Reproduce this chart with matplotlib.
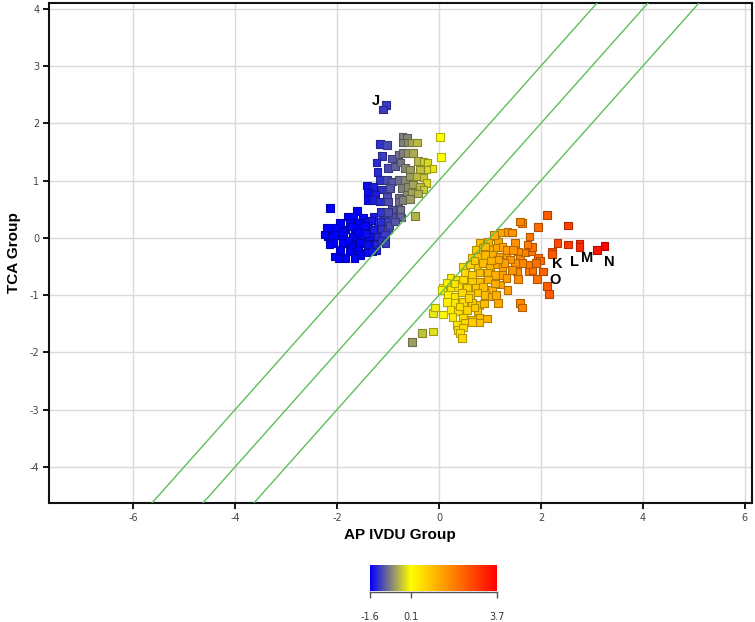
import matplotlib
matplotlib.use("Agg")
import matplotlib.pyplot as plt
import numpy as np
from matplotlib.colors import LinearSegmentedColormap, Normalize

plt.rcParams["axes.unicode_minus"] = False

# ---------------- data ----------------
# (x = AP IVDU Group, y = TCA Group, c = colour value)
upper_pts = [
    (-1.04, 2.32, -1.2), (-1.10, 2.24, -1.2), (-1.16, 1.64, -1.25), (-1.02, 1.62, -1.1),
    (-0.71, 1.76, -0.75), (-0.63, 1.75, -0.7), (-0.71, 1.66, -0.75), (-0.61, 1.66, -0.65),
    (-0.53, 1.66, -0.5), (-0.43, 1.66, -0.35), (0.02, 1.76, 0.1), (0.04, 1.41, 0.1),
    (-1.12, 1.43, -1.2), (-0.92, 1.38, -1.0), (-0.80, 1.45, -0.85), (-0.71, 1.48, -0.75),
    (-0.61, 1.48, -0.6), (-0.51, 1.48, -0.45), (-0.41, 1.34, -0.35), (-0.31, 1.33, -0.25),
    (-0.22, 1.31, -0.15), (-0.14, 1.21, -0.05), (-0.24, 1.19, -0.15), (-1.22, 1.31, -1.3),
    (-1.20, 1.15, -1.3), (-1.00, 1.22, -1.1), (-0.86, 1.24, -0.95), (-0.76, 1.31, -0.8),
    (-0.67, 1.22, -0.7), (-0.57, 1.19, -0.55), (-0.37, 1.19, -0.3), (-1.16, 1.01, -1.25),
    (-1.02, 1.01, -1.1), (-0.92, 0.98, -1.0), (-0.80, 1.01, -0.85), (-0.67, 1.01, -0.7),
    (-0.57, 1.07, -0.55), (-0.43, 1.07, -0.35), (-0.31, 1.05, -0.25), (-0.24, 0.96, -0.15),
    (-1.41, 0.91, -1.5), (-1.29, 0.89, -1.4), (-1.12, 0.84, -1.25), (-0.96, 0.87, -1.0),
    (-0.73, 0.87, -0.75), (-0.61, 0.89, -0.65), (-0.51, 0.93, -0.5), (-0.37, 0.89, -0.35),
    (-0.31, 0.84, -0.25), (-1.39, 0.79, -1.5), (-1.25, 0.75, -1.4), (-1.02, 0.72, -1.1),
    (-0.80, 0.70, -0.85), (-0.63, 0.75, -0.65), (-0.53, 0.79, -0.5), (-0.41, 0.77, -0.4),
    (-1.39, 0.66, -1.5), (-1.29, 0.66, -1.4), (-1.16, 0.63, -1.3), (-1.00, 0.63, -1.1),
    (-0.80, 0.63, -0.85), (-0.71, 0.66, -0.75), (-0.57, 0.68, -0.55), (-0.92, 0.49, -1.0),
    (-0.76, 0.49, -0.85), (-0.47, 0.38, -0.4), (-0.73, 0.35, -0.85), (-2.14, 0.52, -1.6),
    (-1.61, 0.47, -1.6),
    (-1.80, 0.37, -1.6), (-1.69, 0.37, -1.6), (-1.49, 0.35, -1.55), (-1.29, 0.37, -1.4),
    (-1.10, 0.37, -1.2), (-0.92, 0.37, -1.05), (-0.76, 0.37, -0.9), (-1.94, 0.26, -1.6),
    (-1.75, 0.26, -1.6), (-1.59, 0.26, -1.6), (-1.39, 0.28, -1.5), (-1.20, 0.26, -1.3),
    (-1.02, 0.28, -1.15), (-2.20, 0.17, -1.6), (-2.04, 0.17, -1.6), (-1.84, 0.14, -1.6),
    (-1.65, 0.16, -1.6), (-1.49, 0.17, -1.55), (-1.29, 0.14, -1.4), (-1.12, 0.16, -1.25),
    (-1.00, 0.14, -1.15), (-2.18, 0.02, -1.6), (-2.04, 0.05, -1.6), (-1.88, 0.02, -1.6),
    (-1.69, 0.02, -1.6), (-1.51, 0.03, -1.55), (-1.35, 0.02, -1.5), (-1.20, 0.02, -1.35),
    (-1.06, 0.05, -1.2), (-2.08, -0.09, -1.6), (-1.88, -0.09, -1.6), (-1.71, -0.12, -1.6),
    (-1.55, -0.09, -1.6), (-1.39, -0.12, -1.5), (-1.22, -0.12, -1.35), (-1.94, -0.21, -1.6),
    (-1.75, -0.24, -1.6), (-1.59, -0.21, -1.6), (-1.41, -0.26, -1.5), (-1.22, -0.21, -1.35),
    (-2.04, -0.33, -1.6), (-1.84, -0.35, -1.6), (-1.90, 0.10, -1.6), (-1.60, 0.10, -1.6),
    (-1.42, 0.08, -1.5), (-1.32, 0.30, -1.45), (-1.78, -0.05, -1.6), (-1.55, -0.30, -1.6),
    (-1.66, -0.35, -1.6), (-1.30, -0.24, -1.45), (-1.12, -0.05, -1.25), (-0.97, 0.22, -1.1),
    (-0.86, 0.28, -1.0), (-1.15, 0.45, -1.25), (-1.00, 0.45, -1.1), (-2.15, -0.12, -1.6),
    (-2.25, 0.06, -1.6), (-1.97, -0.36, -1.6), (-1.72, 0.20, -1.6), (-1.45, 0.22, -1.55),
    (-1.15, 0.28, -1.3), (-1.05, -0.10, -1.2),
]

lower_pts = [
    (-0.53, -1.82, -0.55), (-0.33, -1.66, -0.3), (-0.12, -1.64, -0.1), (-0.12, -1.31, -0.05),
    (-0.08, -1.22, 0.0), (1.10, 0.03, 1.25), (0.96, -0.07, 1.1), (0.80, -0.09, 0.95),
    (1.16, -0.07, 1.3), (0.86, -0.17, 1.0), (0.71, -0.21, 0.85), (1.00, -0.21, 1.15),
    (1.14, -0.17, 1.3), (1.25, -0.16, 1.4), (0.65, -0.35, 0.8), (0.76, -0.33, 0.9),
    (0.90, -0.30, 1.05), (1.06, -0.30, 1.2), (1.20, -0.33, 1.35), (1.33, -0.30, 1.5),
    (0.47, -0.51, 0.6), (0.61, -0.47, 0.75), (0.75, -0.51, 0.9), (0.86, -0.44, 1.0),
    (1.00, -0.51, 1.15), (1.14, -0.47, 1.3), (1.25, -0.51, 1.4), (0.51, -0.61, 0.65),
    (0.65, -0.65, 0.8), (0.80, -0.61, 0.95), (0.96, -0.61, 1.1), (1.10, -0.65, 1.25),
    (1.25, -0.65, 1.4), (0.22, -0.70, 0.35), (0.35, -0.73, 0.5), (0.47, -0.73, 0.6),
    (0.65, -0.77, 0.8), (0.80, -0.77, 0.95), (0.96, -0.73, 1.1), (1.20, -0.82, 1.35),
    (1.33, -0.70, 1.5), (0.08, -0.87, 0.2), (0.22, -0.86, 0.35), (0.37, -0.86, 0.5),
    (0.55, -0.87, 0.7), (0.71, -0.87, 0.85), (0.86, -0.86, 1.0), (1.04, -0.91, 1.2),
    (0.06, -0.91, 0.2), (0.18, -1.00, 0.3), (0.31, -1.03, 0.45), (0.45, -0.96, 0.6),
    (0.61, -1.00, 0.75), (0.76, -0.96, 0.9), (0.90, -1.00, 1.05), (1.04, -1.03, 1.2),
    (0.16, -1.12, 0.3), (0.31, -1.14, 0.45), (0.47, -1.12, 0.6), (0.65, -1.14, 0.8),
    (0.80, -1.17, 0.95), (1.16, -1.14, 1.3), (0.22, -1.26, 0.35), (0.37, -1.29, 0.5),
    (0.55, -1.26, 0.7), (0.76, -1.29, 0.9), (0.08, -1.34, 0.2), (0.27, -1.38, 0.4),
    (0.47, -1.40, 0.6), (0.65, -1.43, 0.8), (0.80, -1.40, 0.95), (0.94, -1.41, 1.1),
    (0.35, -1.52, 0.45), (0.51, -1.48, 0.65), (0.65, -1.47, 0.8), (0.80, -1.48, 0.95),
    (0.37, -1.61, 0.5), (0.47, -1.57, 0.6), (0.41, -1.66, 0.55), (0.45, -1.75, 0.6),
    (2.12, 0.40, 2.4), (2.53, 0.21, 2.8), (1.63, 0.26, 1.85), (1.59, 0.28, 1.8),
    (1.35, 0.10, 1.55), (1.43, 0.09, 1.6), (1.78, 0.02, 2.0), (1.94, 0.19, 2.15),
    (2.33, -0.09, 2.6), (2.53, -0.12, 2.85), (2.76, -0.10, 3.1), (2.75, -0.16, 3.1),
    (3.10, -0.21, 3.45), (3.25, -0.14, 3.7), (2.22, -0.24, 2.45), (2.22, -0.28, 2.45),
    (1.94, -0.35, 2.15), (1.98, -0.40, 2.2), (2.04, -0.59, 2.3), (2.12, -0.84, 2.4),
    (2.16, -0.98, 2.4), (1.92, -0.72, 2.1), (1.55, -0.72, 1.7), (1.35, -0.91, 1.5),
    (1.59, -1.14, 1.75), (1.63, -1.22, 1.8), (1.75, -0.59, 1.95), (1.84, -0.56, 2.05),
    (1.75, -0.47, 1.95), (1.63, -0.44, 1.8), (1.49, -0.44, 1.65), (1.39, -0.38, 1.55),
    (1.59, -0.30, 1.75), (1.69, -0.26, 1.85), (1.82, -0.24, 2.0), (1.84, -0.16, 2.05),
    (1.73, -0.12, 1.9), (1.49, -0.09, 1.65), (1.55, -0.24, 1.7), (1.33, -0.21, 1.5),
    (1.45, -0.21, 1.6), (1.20, 0.09, 1.35), (1.08, 0.05, 1.25), (1.29, -0.44, 1.45),
    (1.16, -0.38, 1.3), (1.53, -0.59, 1.7), (1.43, -0.56, 1.6), (1.90, -0.44, 2.1),
    (0.90, -0.15, 1.05), (1.02, -0.40, 1.15), (0.70, -0.40, 0.85), (0.30, -0.80, 0.45),
    (0.15, -0.78, 0.3), (0.58, -1.05, 0.7), (0.70, -1.22, 0.85), (0.40, -1.20, 0.55),
    (0.88, -1.15, 1.0), (1.10, -0.80, 1.25), (1.12, -1.00, 1.25),
]

point_labels = ["J", "K", "L", "M", "N", "O"]
label_x = [-1.24, 2.33, 2.65, 2.90, 3.35, 2.27]
label_y = [2.39, -0.45, -0.42, -0.35, -0.42, -0.73]

line_intercepts = [1.0, 0.0, -1.0]   # lines y = x + b

x_ticks = [-6, -4, -2, 0, 2, 4, 6]
y_ticks = [-4, -3, -2, -1, 0, 1, 2, 3, 4]
cbar_ticks = [-1.6, 0.1, 3.7]
cbar_min, cbar_max = -1.6, 3.7

# ---------------- figure ----------------
fig = plt.figure(figsize=(7.55, 6.22), dpi=100)
ax = fig.add_axes([49 / 755, 1 - 503 / 622, (752 - 49) / 755, 500 / 622])

xmin, xmax = -7.65, 6.14
ymin, ymax = -4.63, 4.10
ax.set_xlim(xmin, xmax)
ax.set_ylim(ymin, ymax)

cmap = LinearSegmentedColormap.from_list(
    "byr", [(0.0, "#0000ff"), ((0.1 - cbar_min) / (cbar_max - cbar_min), "#ffff00"), (1.0, "#ff0000")])
norm = Normalize(vmin=cbar_min, vmax=cbar_max)

pts = upper_pts + lower_pts
xs = np.array([p[0] for p in pts])
ys = np.array([p[1] for p in pts])
cs = np.array([p[2] for p in pts])
faces = cmap(norm(cs))
edges = faces.copy()
edges[:, :3] *= 0.7

ax.scatter(xs, ys, s=28, marker="s", c=faces, edgecolors=edges, linewidths=0.8, zorder=2)

xx = np.array([xmin, xmax])
for b in line_intercepts:
    ax.plot(xx, xx + b, color="#5cbf5c", lw=1.0, zorder=3)

for t, lx, ly in zip(point_labels, label_x, label_y):
    ax.text(lx, ly, t, fontsize=10.5, fontweight="bold", family="Liberation Sans",
            ha="center", va="center", color="black", zorder=4)

ax.set_xticks(x_ticks)
ax.set_yticks(y_ticks)
ax.grid(True, color="#d9d9d9", lw=1.0, zorder=0)
ax.set_axisbelow(True)
ax.tick_params(axis="both", direction="out", length=4, width=1.3, color="black",
               labelsize=7, labelcolor="#444444", pad=3)
for s in ax.spines.values():
    s.set_linewidth(1.5)
    s.set_color("#111111")

ax.set_xlabel("AP IVDU Group", fontsize=11, fontweight="bold", family="Liberation Sans",
              va="center")
ax.xaxis.set_label_coords((400 - 49) / 703, -(535 - 503) / 500)
ax.set_ylabel("TCA Group", fontsize=11, fontweight="bold", family="Liberation Sans",
              va="center")
ax.yaxis.set_label_coords(-(49 - 14) / 703, (503 - 253) / 500)

# ---------------- colour bar ----------------
cax = fig.add_axes([370 / 755, 1 - 591 / 622, 127 / 755, 26 / 622])
grad = np.linspace(cbar_min, cbar_max, 512)[None, :]
cax.imshow(grad, aspect="auto", cmap=cmap, norm=norm,
           extent=[cbar_min, cbar_max, 0, 1], origin="lower")
cax.set_xlim(cbar_min, cbar_max)
cax.set_ylim(0, 1)
for k in ["top", "left", "right"]:
    cax.spines[k].set_visible(False)
cax.spines["bottom"].set_position(("outward", 1))
cax.spines["bottom"].set_color("#555555")
cax.spines["bottom"].set_linewidth(1.0)
cax.set_yticks([])
cax.set_xticks(cbar_ticks)
cax.set_xticklabels([str(v) for v in cbar_ticks])
cax.tick_params(axis="x", direction="out", length=4, width=1.0, color="#555555",
                labelsize=7, labelcolor="#333333", pad=10)

fig.savefig("out.png", dpi=100)
